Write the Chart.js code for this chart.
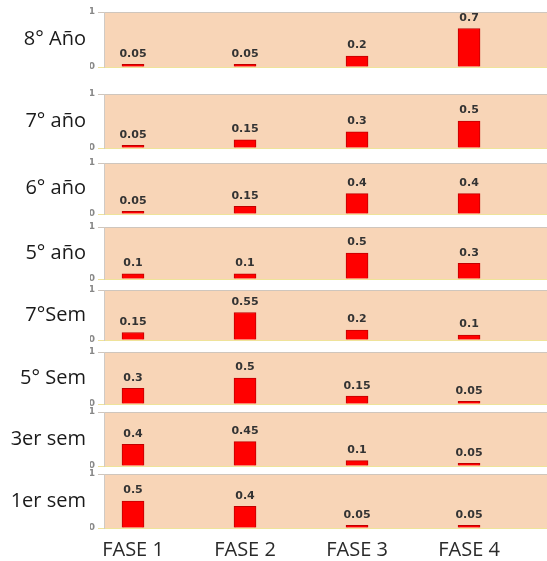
<!DOCTYPE html>
<html>
<head>
<meta charset="utf-8">
<script src="https://cdn.jsdelivr.net/npm/chart.js@4.4.1/dist/chart.umd.min.js"></script>
<style>
  body{margin:0;background:#fff;width:547px;height:561px;overflow:hidden;position:relative}
  .panel{position:absolute;left:0;width:547px}
</style>
</head>
<body>
<div id="wrap"></div>
<script>
// categorias del eje x
const fases = [1, 2, 3, 4]
const faseLabels = ['FASE 1', 'FASE 2', 'FASE 3', 'FASE 4']

// grupos (un panel por grupo, de arriba a abajo)
const grupos = ['8° Año', '7° año', '6° año', '5° año', '7°Sem', '5° Sem', '3er sem', '1er sem']

const ano8 = [0.05, 0.05, 0.2, 0.7]
const ano7 = [0.05, 0.15, 0.3, 0.5]
const ano6 = [0.05, 0.15, 0.4, 0.4]
const ano5 = [0.1, 0.1, 0.5, 0.3]
const sem7 = [0.15, 0.55, 0.2, 0.1]
const sem5 = [0.3, 0.5, 0.15, 0.05]
const sem3 = [0.4, 0.45, 0.1, 0.05]
const sem1 = [0.5, 0.4, 0.05, 0.05]
const valores = [ano8, ano7, ano6, ano5, sem7, sem5, sem3, sem1]

// layout: borde superior y linea de cero de cada panel (px)
const panelTop = [12, 94, 163, 227, 290, 352, 412, 474]
const panelZero = [67, 148, 214, 279, 340, 404, 466, 528]

const fondo = {
  id: 'fondo',
  beforeDraw(chart){
    const {ctx, chartArea: a} = chart
    ctx.save()
    ctx.fillStyle = '#f8d5b7'
    ctx.fillRect(a.left, a.top, a.right - a.left, a.bottom - a.top)
    ctx.restore()
  }
}

const etiquetas = {
  id: 'etiquetas',
  afterDatasetsDraw(chart){
    const {ctx} = chart
    const ds = chart.data.datasets[0]
    ctx.save()
    ctx.font = 'bold 11px "DejaVu Sans"'
    ctx.fillStyle = '#333'
    ctx.textAlign = 'center'
    ctx.textBaseline = 'bottom'
    chart.getDatasetMeta(0).data.forEach((bar, j) => {
      ctx.fillText(String(ds.data[j].y), bar.x, bar.y - 5)
    })
    ctx.restore()
  }
}

const wrap = document.getElementById('wrap')

grupos.forEach((grupo, i) => {
  const last = i === grupos.length - 1
  const h = panelZero[i] - panelTop[i]
  const div = document.createElement('div')
  div.className = 'panel'
  div.style.top = (panelTop[i] - 6) + 'px'
  div.style.height = (h + (last ? 6 + 44 : 12)) + 'px'
  const canvas = document.createElement('canvas')
  div.appendChild(canvas)
  wrap.appendChild(div)

  new Chart(canvas, {
    type: 'bar',
    data: {
      datasets: [{
        data: fases.map((f, j) => ({x: f, y: valores[i][j]})),
        backgroundColor: '#ff0000',
        borderColor: '#c00000',
        borderWidth: 1,
        barThickness: 22
      }]
    },
    options: {
      responsive: true,
      maintainAspectRatio: false,
      animation: false,
      events: [],
      layout: {padding: {top: 6, bottom: last ? 0 : 6, left: 0, right: 0}},
      plugins: {legend: {display: false}, tooltip: {enabled: false}},
      scales: {
        x: {
          type: 'linear',
          min: 0.741,
          max: 4.696,
          offset: false,
          display: last,
          grid: {display: false, drawTicks: false},
          border: {display: false},
          afterBuildTicks: s => { s.ticks = fases.map(v => ({value: v})) },
          ticks: {
            padding: 10,
            color: '#2a2a2a',
            font: {family: '"Open Sans"', size: 20},
            callback: v => faseLabels[fases.indexOf(v)]
          }
        },
        y: {
          min: 0,
          max: 1,
          position: 'left',
          afterFit: s => { s.width = 14; s.paddingTop = 0; s.paddingBottom = 0 },
          grid: {
            tickLength: 6,
            color: c => (c.tick && c.tick.value === 0) ? '#efe39a' : '#cfc6bd'
          },
          border: {display: true, color: '#cfcac5'},
          ticks: {
            stepSize: 1,
            padding: 3,
            color: '#888',
            font: {family: '"DejaVu Sans"', size: 9, weight: 'bold'}
          }
        },
        grupo: {
          type: 'category',
          labels: [grupo],
          position: 'left',
          offset: true,
          weight: 1,
          afterFit: s => { s.width = 90; s.paddingTop = 0; s.paddingBottom = 0 },
          grid: {display: false, drawTicks: false},
          border: {display: false},
          ticks: {
            padding: 4,
            color: '#1a1a1a',
            font: {family: '"Open Sans"', size: 20}
          }
        }
      }
    },
    plugins: [fondo, etiquetas]
  })
})
</script>
</body>
</html>
